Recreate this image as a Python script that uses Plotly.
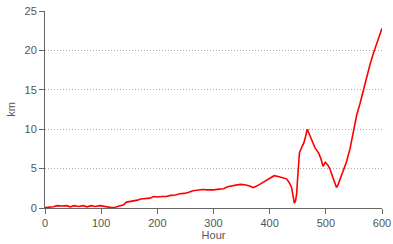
import plotly.graph_objects as go

hours = [0, 8, 15, 22, 30, 38, 45, 52, 60, 68, 75, 82, 90, 98, 105, 112, 118, 125, 133, 140, 145, 150, 158, 165, 170, 178, 187, 193, 200, 208, 216, 224, 232, 240, 248, 256, 263, 270, 280, 290, 300, 310, 318, 325, 333, 340, 348, 356, 364, 371, 380, 390, 398, 403, 408, 415, 422, 430, 435, 439, 442, 444, 446, 448, 450, 453, 457, 461, 464, 467, 471, 476, 481, 487, 491, 495, 499, 503, 507, 511, 515, 519, 522, 527, 532, 537, 543, 549, 555, 561, 567, 573, 579, 585, 590, 595, 600]
km = [0.05, 0.1, 0.15, 0.3, 0.25, 0.3, 0.15, 0.3, 0.2, 0.3, 0.15, 0.3, 0.2, 0.3, 0.2, 0.05, 0.05, 0.1, 0.25, 0.4, 0.75, 0.8, 0.85, 1.0, 1.15, 1.2, 1.25, 1.45, 1.4, 1.45, 1.45, 1.6, 1.65, 1.8, 1.85, 2.0, 2.2, 2.25, 2.35, 2.3, 2.3, 2.4, 2.45, 2.7, 2.85, 2.9, 3.0, 2.95, 2.8, 2.6, 2.9, 3.3, 3.6, 3.8, 4.1, 4.0, 3.9, 3.7, 3.2, 2.6, 1.4, 0.6, 0.9, 1.8, 4.0, 7.0, 7.7, 8.3, 9.1, 10.0, 9.3, 8.4, 7.6, 7.0, 6.3, 5.3, 5.8, 5.5, 5.0, 4.2, 3.3, 2.6, 3.0, 3.9, 4.9, 5.9, 7.5, 9.8, 11.8, 13.3, 15.0, 16.6, 18.3, 19.7, 20.7, 21.6, 22.8]

fig = go.Figure()
fig.add_trace(go.Scatter(x=hours, y=km, mode="lines",
                         line=dict(color="#ff0000", width=1.6), showlegend=False))

axis_font = dict(family="Liberation Sans, Arial, sans-serif", size=11, color="#555555")
fig.update_layout(
    width=393, height=244,
    margin=dict(l=45, r=11, t=11, b=36, autoexpand=False),
    paper_bgcolor="white", plot_bgcolor="white",
    font=axis_font,
    xaxis=dict(range=[0, 600], tickvals=[0, 100, 200, 300, 400, 500, 600],
               automargin=False,
               showgrid=False, zeroline=False, showline=True, linecolor="#666666",
               linewidth=1, ticks="outside", ticklen=5, tickcolor="#666666",
               title=dict(text="Hour", standoff=2, font=axis_font)),
    yaxis=dict(range=[0, 25], tickvals=[0, 5, 10, 15, 20, 25],
               automargin=False,
               showgrid=True, gridcolor="#aaaaaa", griddash="1px,2px", gridwidth=1,
               zeroline=False, showline=True, linecolor="#666666",
               linewidth=1, ticks="outside", ticklen=5, tickcolor="#666666",
               title=dict(text="km", standoff=6, font=axis_font)),
)
fig.write_html("out.html", config={"displayModeBar": False},
               post_script="document.body.style.margin='0';document.body.style.overflow='hidden';")
